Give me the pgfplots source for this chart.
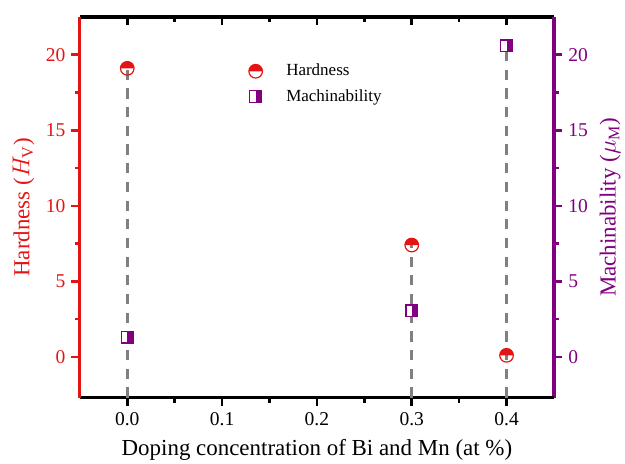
\documentclass[border=0pt]{standalone}
\usepackage{pgfplots}
\pgfplotsset{compat=1.18}
\usetikzlibrary{plotmarks}
\usepackage{fontspec}
\setmainfont{Liberation Serif}
\definecolor{hred}{RGB}{228,20,20}
\definecolor{mpurp}{RGB}{128,0,128}
\definecolor{dgray}{RGB}{128,128,128}
\pgfdeclareplotmark{hsqr}{%
  \pgfpathrectangle{\pgfqpoint{-\pgfplotmarksize}{-\pgfplotmarksize}}{\pgfqpoint{2\pgfplotmarksize}{2\pgfplotmarksize}}%
  \pgfsetfillcolor{white}\pgfusepathqfillstroke
  \pgfpathrectangle{\pgfqpoint{0pt}{-\pgfplotmarksize}}{\pgfqpoint{\pgfplotmarksize}{2\pgfplotmarksize}}%
  \pgfsetfillcolor{mpurp}\pgfusepathqfill
}
\pgfdeclareplotmark{hcirc}{%
  \pgfpathmoveto{\pgfqpoint{\pgfplotmarksize}{0pt}}%
  \pgfpatharc{0}{180}{\pgfplotmarksize}%
  \pgfpathclose
  \pgfusepathqfill
  \pgfpathcircle{\pgfpointorigin}{\pgfplotmarksize}%
  \pgfusepathqstroke
}
\begin{document}
\begin{tikzpicture}
\pgfplotsset{
  common/.style={
    scale only axis, width=279pt, height=224pt,
    xmin=-0.05, xmax=0.45, ymin=-2.7, ymax=22.5,
    /pgf/number format/assume math mode=true,
    tick label style={font=\fontsize{11.5}{13}\selectfont},
    major tick length=5pt, minor tick length=3pt,
  }
}
% top axis with inward ticks
\begin{axis}[common,
  axis x line*=top, hide y axis, tick align=inside,
  xtick={0,0.1,0.2,0.3,0.4}, minor x tick num=1, xticklabels={},
  x axis line style={black, line width=1.9pt},
  xtick style={black, line width=1.5pt}]
\end{axis}
% right axis
\begin{axis}[common,
  axis y line*=right, hide x axis, tick align=outside,
  ytick={0,5,10,15,20}, minor y tick num=1,
  y axis line style={mpurp, line width=1.9pt},
  ytick style={mpurp, line width=1.5pt},
  yticklabel style={mpurp},
  ylabel={Machinability ($\mu_{\mathrm{M}}$)},
  ylabel style={mpurp, font=\fontsize{13.5}{15}\selectfont},
  ]
\end{axis}
% main axis
\begin{axis}[common,
  axis x line*=bottom, axis y line*=left, tick align=outside,
  xtick={0,0.1,0.2,0.3,0.4}, minor x tick num=1,
  xticklabel style={/pgf/number format/fixed, /pgf/number format/fixed zerofill, /pgf/number format/precision=1},
  ytick={0,5,10,15,20}, minor y tick num=1,
  x axis line style={black, line width=1.9pt},
  y axis line style={hred, line width=1.9pt},
  xtick style={black, line width=1.5pt},
  ytick style={hred, line width=1.5pt},
  yticklabel style={hred},
  xlabel={Doping concentration of Bi and Mn (at \%)},
  xlabel style={font=\fontsize{13.5}{15}\selectfont, yshift=-1.5pt},
  ylabel={Hardness ($H_{\mathrm{V}}$)},
  ylabel style={hred, font=\fontsize{13.5}{15}\selectfont},
  legend style={draw=none, fill=none, at={(0.345,0.895)}, anchor=north west,
    font=\fontsize{10}{12}\selectfont, row sep=2.5pt},
  legend cell align=left,
  ]
\addplot[dgray, line width=1.8pt, dash pattern=on 6pt off 5pt, forget plot] coordinates {(0,-2.7) (0,19.1)};
\addplot[dgray, line width=1.8pt, dash pattern=on 6pt off 5pt, forget plot] coordinates {(0.3,-2.7) (0.3,7.4)};
\addplot[dgray, line width=1.8pt, dash pattern=on 6pt off 5pt, forget plot] coordinates {(0.4,-2.7) (0.4,20.6)};
\addplot[only marks, mark=hcirc, mark size=4pt, mark options={draw=hred, fill=hred, line width=0.7pt}]
  coordinates {(0,19.1) (0.3,7.4) (0.4,0.1)};
\addlegendentry{\hspace{12pt}Hardness}
\addplot[only marks, mark=hsqr, mark size=3.4pt, mark options={draw=mpurp, line width=0.7pt}]
  coordinates {(0,1.3) (0.3,3.05) (0.4,20.6)};
\addlegendentry{\hspace{12pt}Machinability}
\end{axis}
\pgfresetboundingbox
\path ([xshift=-47pt, yshift=-38.5pt]current axis.south west) rectangle ([xshift=41.8pt, yshift=10pt]current axis.north east);
\end{tikzpicture}
\end{document}
